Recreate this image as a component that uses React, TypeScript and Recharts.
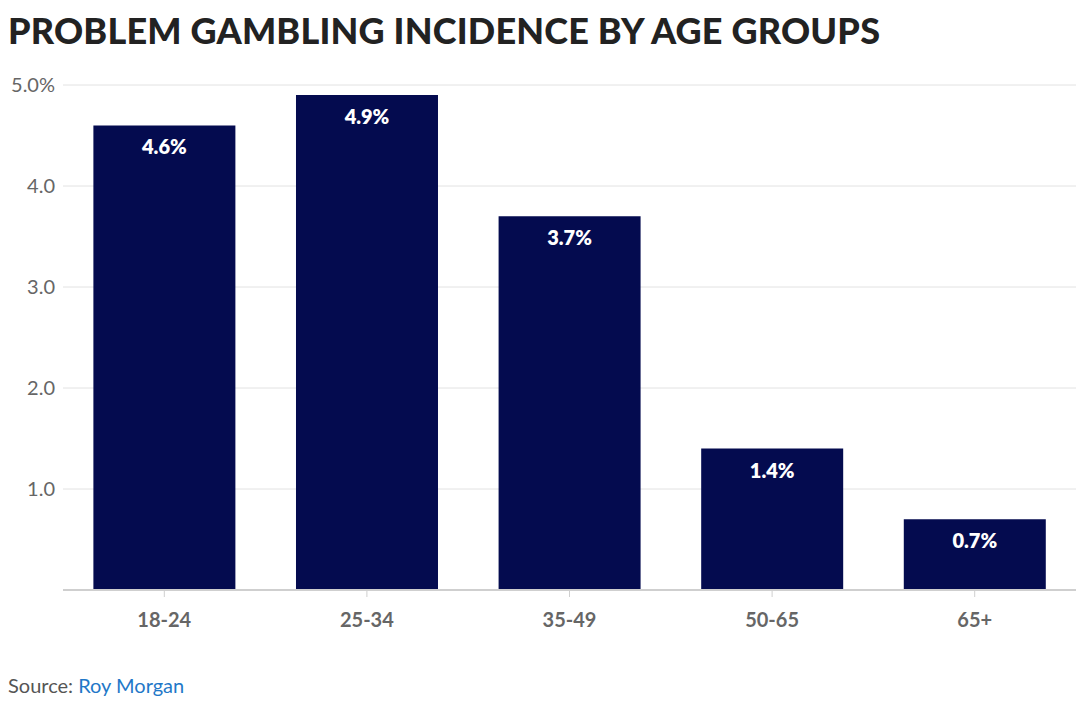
import { BarChart, Bar, XAxis, YAxis, CartesianGrid, LabelList } from "recharts"

const ageGroups = ["18-24", "25-34", "35-49", "50-65", "65+"]
const incidence = [4.6, 4.9, 3.7, 1.4, 0.7]
const yTicks = [0, 1, 2, 3, 4, 5]

const data = ageGroups.map((group, i) => ({ group, value: incidence[i] }))

const FONT = "Lato, 'Open Sans', sans-serif"

const formatY = (v: number) => {
  if (v === 0) return ""
  if (v === 5) return "5.0%"
  return v.toFixed(1)
}

const BarValue = (props: any) => {
  const { x, y, width, value } = props
  return (
    <text
      x={x + width / 2}
      y={y + 21}
      textAnchor="middle"
      dominantBaseline="central"
      fill="#ffffff"
      fontSize={20}
      fontWeight={800}
      fontFamily={FONT}
    >
      {value.toFixed(1)}%
    </text>
  )
}

export default function App() {
  return (
    <div
      style={{
        position: "absolute",
        left: 0,
        top: 0,
        width: 1080,
        height: 716,
        background: "#fff",
        fontFamily: FONT,
      }}
    >
      <div
        style={{
          position: "absolute",
          left: 8,
          top: 7,
          fontSize: 36,
          fontWeight: 900,
          color: "#222",
          letterSpacing: 0.2,
          lineHeight: "46px",
          whiteSpace: "nowrap",
        }}
      >
        PROBLEM GAMBLING INCIDENCE BY AGE GROUPS
      </div>
      <div style={{ position: "absolute", left: 0, top: 0 }}>
        <BarChart
          width={1080}
          height={716}
          data={data}
          margin={{ top: 85, right: 4, left: 0, bottom: 86 }}
          barCategoryGap="15%"
        >
          <CartesianGrid vertical={false} stroke="#e2e2e2" />
          <XAxis
            dataKey="group"
            height={40}
            axisLine={{ stroke: "#cfcfcf", strokeWidth: 2 }}
            tickLine={{ stroke: "#cfcfcf" }}
            tickSize={7}
            tickMargin={16}
            tick={{ fill: "#666", fontSize: 20, fontWeight: 700, fontFamily: FONT }}
          />
          <YAxis
            width={63}
            domain={[0, 5]}
            ticks={yTicks}
            tickFormatter={formatY}
            axisLine={false}
            tickLine={false}
            tick={{ fill: "#666", fontSize: 20, fontFamily: FONT }}
          />
          <Bar dataKey="value" fill="#040b4f" isAnimationActive={false}>
            <LabelList dataKey="value" content={BarValue} />
          </Bar>
        </BarChart>
      </div>
      <div
        style={{
          position: "absolute",
          left: 8,
          top: 673,
          fontSize: 20,
          color: "#555",
        }}
      >
        Source: <span style={{ color: "#1f78c8" }}>Roy Morgan</span>
      </div>
    </div>
  )
}
